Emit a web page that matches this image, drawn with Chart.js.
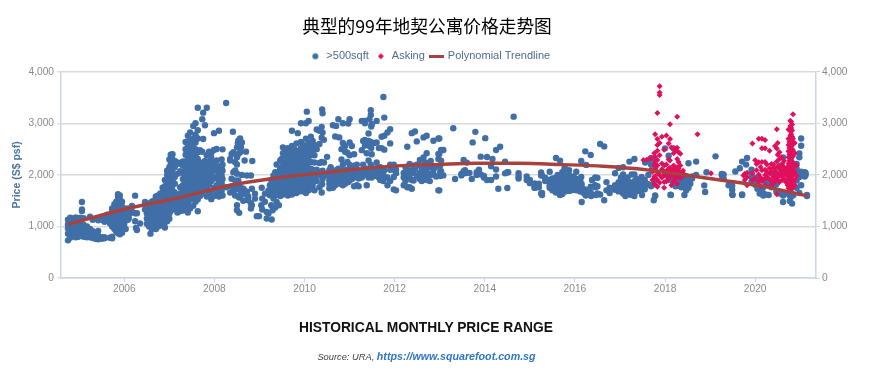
<!DOCTYPE html>
<html><head><meta charset="utf-8">
<script src="https://cdn.jsdelivr.net/npm/chart.js@4"></script>
<style>
html,body{margin:0;padding:0;background:#fff;width:881px;height:388px;overflow:hidden}
#wrap{position:relative;width:881px;height:388px}
canvas{position:absolute;left:0;top:0}
.t{position:absolute;white-space:nowrap;transform:translateX(-50%)}
#title{left:427px;top:12px;font:17.7px/26px "Noto Sans CJK SC",sans-serif;color:#000}
#sub{left:426px;top:319px;font:bold 13.8px/18px "Liberation Sans",Arial,sans-serif;color:#111}
#src{left:426.5px;top:347.5px;font:italic 9.3px/16px "Liberation Sans",Arial,sans-serif;color:#444}
#src b{font-size:10.7px;color:#2f76c4}
</style></head><body>
<div id="wrap">
<canvas id="c" width="881" height="388"></canvas>
<div id="title" class="t">典型的99年地契公寓价格走势图</div>
<div id="sub" class="t">HISTORICAL MONTHLY PRICE RANGE</div>
<div id="src" class="t">Source: URA, <b>https://www.squarefoot.com.sg</b></div>
</div>
<script>
// Each row: first number = years after 2000, the rest = prices read at that date.
const yearTicks = [2006,2008,2010,2012,2014,2016,2018,2020];
const seriesNames = ['>500sqft','Asking','Polynomial Trendline'];
const blue2005 = [
[4.75,730,860,960,1040,1130],[4.8,780,900,1000,1090,1170],[4.86,820,920,1020,1100,1150],
[4.92,790,870,960,1050,1130,1175],[4.98,800,885,975,1065,1160],[5.03,820,925,1010,1100,1170],
[5.06,1300,1330,1475],[5.1,800,860,950,1030,1160],[5.17,790,850,920,1000],[5.24,790,830,880,950,1190],
[5.3,775,805,850,910,1130],[5.36,760,800,845],[5.42,750,780,820,915,1120],[5.5,760,790,1130],
[5.56,770,790,1090,1170],[5.62,1230,1150],[5.68,780,1060,1210],[5.73,770,800,1000,1100,1200,1300,1350],
[5.78,950,1050,1150,1250,1340,1430],[5.82,900,1000,1095,1200,1300,1400,1480],
[5.86,870,960,1060,1165,1260,1360,1460,1570,1625],[5.9,850,930,1030,1130,1230,1330,1435,1530,1600],
[5.95,880,980,1080,1180,1280,1385,1480],[6.0,950,1050,1150,1250,1350]];
const blue2006 = [
[6.03,950,1170],[6.08,1350,1240,1130],[6.1,1160],[6.13,1255],[6.17,1400,1290],[6.24,1597,1100,1255],
[6.26,970],[6.28,930,1255],[6.35,1060],[6.46,1475,1330],[6.5,1410,1050,1150,1250,1350,1450],
[6.55,1000,1100,1200,1300,1400],[6.58,860],[6.61,950,1050,1150,1250,1350,1480],
[6.65,1000,1100,1200,1300,1400,1500],[6.7,950,1050,1150,1250,1350,1450,1580],
[6.75,1000,1100,1200,1300,1400,1500,1600],[6.8,1020,1120,1220,1320,1420,1520,1640],
[6.85,1050,1150,1250,1350,1450,1550,1650,1750],[6.9,980,1080,1180,1280,1380,1480,1580,1680,1780,1900],
[6.95,1100,1200,1300,1400,1500,1600,1700,1800,1900,2000,2080]];
const blue2007 = [
[7.0,1150,1250,1350,1450,1550,1650,1750,1850,1950,2050,2150,2300],
[7.03,1300,1400,1500,1600,1700,1800,1900,2000,2100,2200,2390],
[7.07,1400,1500,1600,1700,1800,1900,2000,2100,2200,2300,2400,2260],
[7.12,1340,1380,1450,1560,1660,1830,1960,2150,2270],[7.18,1270,1300,1360,1470,1590,2020,2240],
[7.24,1300,1350,1450,1530,1640,1760,2070,2210],[7.3,1310,1420,1560,1680,1800,1920,2030,2180,2260],
[7.36,1380,1500,1620,1740,1860,1990,2120,2250,2390,2500,2640],
[7.41,1270,1450,1580,1700,1830,1950,2070,2200,2320,2450,2580,2759],
[7.46,1350,1520,1650,1780,1900,2020,2140,2270,2400,2530,2660,2823],
[7.53,1400,1560,1700,1820,1950,2080,2200,2330,2460,2590,2700,2951],
[7.58,1480,1620,1740,1870,2000,2130,2250,2380,2500,2630,2780,3003],
[7.63,1295,1530,1680,1800,1930,2060,2190,2310,2440,2707,2868,3304],
[7.68,1590,1730,1860,1980,2120,2240,2480],[7.73,1640,1790,1920,2050,2200,2450,3080],
[7.75,2695,3208],[7.79,1700,1840,1990,2130,2270,2964],[7.83,1580,1760,1900,2040,2200,2380,3304],
[7.88,1640,1820,1960,2100,2260,2451],[7.93,1530,1700,1880,2020,2170,2330,2420],
[7.99,1590,1750,1930,2080,2220,2483,2810],[8.05,1640,1800,1960,2120,2280,2502],
[8.1,1580,1700,1880,2030,2170,2855],[8.16,1690,1840,1990,2130,2300],[8.18,2496,1600,1920,2080,2200]];
const blue2008 = [
[8.26,3394,1760],[8.35,2310,2278,1660],[8.38,2406,1925,1780],[8.41,2836,1730],[8.42,2438,2053,1668],
[8.46,2246,2085,1893,1600],[8.5,2534,2342,2201,2021,1796,1411,1315,1720],[8.52,2618,1860],[8.53,2663,2406,1893],
[8.55,1264,1560],[8.57,2707,2438,1764,1572],[8.59,2534,1650],[8.61,2630,2000],[8.64,1732,1500],
[8.67,2278,1700],[8.7,2451,1620],[8.72,1989,1668],[8.75,1508,1580],[8.81,1989,1347,1450],[8.83,1732,1411],
[8.84,2271],[8.9,1636,1540],[8.94,1200],[8.99,1200]];
const blue2009 = [
[9.04,1411],[9.05,1751],[9.06,1540,1328],[9.12,1636,1480],[9.16,1155,1280],[9.2,1251,1700],[9.23,1604,1800],
[9.26,1411,1900],[9.27,1135],[9.29,1315,1700,1620],[9.31,1828,1989,1540],[9.35,1367,1680,1770,1860,1950,2050],
[9.38,1476,2201,1610,1720,1830,1940],[9.43,1411,1640,1750,1860,1970,2060],[9.46,2278,1590,1700,1810,1920,2020,2130],
[9.49,2310,2085,1650,1770,1880,1990],[9.52,2534,2420,1620,1730,1840,1950,2060,2180],
[9.58,1680,1790,1900,2000,2120,2240,2360,2480],[9.63,1600,1720,1830,1940,2050,2160,2280,2400,2520],
[9.68,1660,1770,1880,1990,2100,2210,2330,2460],[9.72,2855,1620,1730,1840,1950,2060,2170,2290,2440,2560],
[9.77,1690,1800,1910,2020,2130,2250,2370,2500],[9.82,1650,1770,1880,2000,2110,2230,2340,2470,2610],
[9.85,2810,1720,1830,1950,2070,2180,2300,2420],[9.92,3003,1680,1790,1900,2020,2140,2260,2390,2520,2640],
[9.97,1720,1840,1960,2080,2200,2320,2450,2580],[10.03,3003,1650,1770,1890,2010,2130,2250,2380,2540,2700],
[10.05,3227,1820,1940,2060,2180,2300,2430],[10.09,3048,1700,1850,1980,2110,2240,2360,2500,2620],
[10.14,1740,1880,2000,2120,2250,2380,2560,2740]];
const blue2010 = [
[10.18,2000,2100,1800,2660,2480],[10.22,1700,1950,2240,2580,2380],[10.27,1880,2100,2500,2880],
[10.33,2855,1760,1990,2230,2600],[10.38,2932,1660,2060,2250,2720],[10.39,3272,1820,2000],
[10.4,3195,2823,2080,1920],[10.43,1980,2240,2680],[10.5,2000,2350],[10.55,1740,1900,2090,1980,1830],
[10.58,1750,2060,2150],[10.63,2964,1900,2000,1820,1750],[10.68,2746,2030,1940,1800],[10.7,2951,1880,1960,2090],
[10.75,3080,2120,1990,1830,1900],[10.77,2727,2040,1950],[10.82,2500,2300,2050,1970,1880],[10.85,3003,2620,2200,2100,2010,1920,1800],
[10.9,2560,2450,2000,2060,1950,1830],[10.95,2430,2250,2100,2010,1900],[10.97,2996,1980,1860],[11.0,3080,2630,2380,2200,2120,2040,1960,1890],
[11.05,2560,2100,2000,1920],[11.1,2400,2180,2050,1950,1780],[11.16,2200,2100,1990,1800],[11.2,2010,1930,1780]];
const blue2011 = [
[11.27,3048,2480,2030,1950],[11.3,2660,2200,2060],[11.34,3048,3003,2680,2570,2130,2000],[11.38,1800,2030,2590,2420],
[11.42,2804,2660,2280,2100,1950],[11.44,3080,2560,2030],[11.47,3253,3163,2640,2200,2100,1990],[11.48,2938,2520],
[11.49,2983,2400,2140,2040,1950],[11.55,2620,2100,2010],[11.6,3048,2630,2240,2130,2040,1980],[11.65,2520,2100,1990,1950],
[11.68,2150,2030,1900],[11.71,2740,2520,2060,1960],[11.75,3510,2000,1880],[11.77,3112,2759,2490,2090,1940],
[11.84,2823,1950,1800],[11.9,2887,2611,2100,2200,1880],[11.98,2200,1960,1720,2100],[12.03,1700,2100,2030]];
const blue2012 = [
[12.2,1800,1950,2040],[12.24,1880,2050,2150],[12.28,2547,1760,1930,2060],[12.33,1760,1960,2090,2210],[12.38,2810,1730,1900,2040],
[12.42,1890,2050,2180],[12.45,2842,2120],[12.49,2650,1980,2200],[12.56,1920,2040,2180,2290],[12.6,1880,2000,2120],
[12.64,2727,1970,2100,2340],[12.68,1950,2130,2240],[12.71,2759,1900,2050,2420],[12.78,1880,2020,2150],[12.8,2270,2000,2190],
[12.86,2663,2100,2020],[12.92,2160,1970],[12.97,2707,2405,1700,2310],[12.99,2707,2405,1700],[13.01,2181,1980,2060]];
const blue2013 = [
[13.03,2482,2277,2070],[13.08,2482,1990],[13.3,2906],[13.34,1920],[13.48,2020,1990],[13.53,2290,2070],[13.56,2090,2030],
[13.6,2239,2040],[13.66,2040],[13.71,1920],[13.73,2630],[13.79,2835],[13.82,2050,2000],[13.87,2100],[13.91,2354,2010],
[13.98,1950,1980],[14.01,2713],[14.05,2348,1900],[14.14,2168,1900],[14.17,2309],[14.25,2482,2104,1970],[14.3,1732],
[14.34,2547],[14.45,2258,2030],[14.5,1745,2050],[14.52,2050]];
const blue2014 = [
[14.64,3130],[14.75,2035,1970,1930],[14.93,1970,1900],[15.0,1900,1840],[15.1,1750,1830],[15.12,1750,1830],[15.2,1760,1830],
[15.25,2047,1990,1640],[15.27,1648,1990],[15.34,1945,1880],[15.44,2060,1800,1900,1750],[15.5,1840,1930,1700],[15.53,1720,1780,1860],
[15.58,2328,1660,1760,1950,1850],[15.62,1700,1820,1900,2000],[15.67,2277,1640,1750,1860,1960],[15.72,1700,1800,1900,2050,1630],
[15.77,2130,1740,1860,1980,2000]];
const blue2016 = [
[15.78,2117,1800,1680],[15.83,1960,1850,1740],[15.87,2000,1900,1800,1690,2090],[15.93,1930,1700,1820],[15.97,1970,1860,1750],
[16.03,1920,1790,1700,2060],[16.07,1850,1720],[16.12,1880,1760,1680],[16.14,2271,1700,1960],[16.15,1475,1820,1750],[16.18,1700,1660],
[16.23,2457,1623,1720],[16.25,2194,1690],[16.35,2386,1660,1770],[16.38,1610,1900],[16.45,1760,1800,1950],[16.5,1943,1640,1780],
[16.56,2598,1620],[16.65,2553,1507],[16.7,1860,1700],[16.77,1750,1650],[16.89,2033,1800,1710],[16.97,2136,1860,1780,1680],
[17.02,1830,1750,1950]];
const blue2017 = [
[17.07,2149,2008,1850,1780,1640],[17.12,1900,1800,1720],[17.17,1830,1770,1650,1950],[17.21,2258,1860,1700,1620],[17.26,2008,1780,1680],
[17.32,2309,2008,1880,1790,1640],[17.37,1830,1730,1920],[17.42,1860,1760,1690],[17.48,1830,1760,1720,1960],[17.52,1810,1760],
[17.55,1780,1720,1900],[17.56,2240,1840],[17.63,2270,2000,1820],[17.69,2330,2200,1780],[17.75,1507,2210,1820],[17.78,1603,1900,2160]];
const blue2018 = [
[18.0,2515,2050],[18.08,2373,1980,1900],[18.12,1616,1900],[18.19,2515,1920,1840],[18.23,1930,1780,1850],[18.28,1830,1900,2000],
[18.3,1960,1790,1850],[18.36,1880,1760,1940],[18.4,1800,1890,1950],[18.47,1700,1810,1980],[18.52,2226,1920,1750,1860],
[18.56,1950,1830],[18.6,1930,1970],[18.69,2258,2000],[18.87,1796],[18.89,1668],[18.92,2052]];
const blue2019 = [
[19.12,2360],[19.26,2020,1990],[19.3,1925,2010],[19.41,1800],[19.49,1790,1710,1623],[19.56,2065],[19.66,2130],[19.71,2258,1623],
[19.8,2200],[19.82,2328],[19.92,2100,2020,1950,1870],[20.0,1940,1810],[20.05,1730,1850],[20.1,1700,1640,1920],[20.17,1650,1890,1750],
[20.23,1620,1880],[20.3,1900,1800],[20.36,1860,1760],[20.41,2000,1780],[20.47,1680,1820],[20.55,1640,2180,2020],[20.62,1475,1600,2340],
[20.68,1640,2040],[20.77,1494,1600],[20.8,1580,1640],[20.82,1443],[20.92,2210,2120,2020,1890,1750],[20.98,2418,2341,1960,1650],
[21.02,2707,2566,2060,1800],[21.1,2052,1970],[21.12,2040,2000],[21.15,1590]];
const blueLow = [
[15.27,1610],[15.67,1610],[16.24,1600],[16.36,1590],[16.47,1610],[17.12,1590],[17.27,1610],[17.32,1590],[17.49,1610],[17.78,1590],
[18.13,1610],[18.43,1610],[19.5,1610],[19.71,1610],[20.18,1600],[20.3,1610],[20.85,1610],[21.15,1610]];

const ask2017 = [
[17.52,2290],[17.6,2300],[17.68,2320,2100],[17.72,1900,2060],[17.76,1820,1960,2190,2420],[17.78,2790,1980,2110,2270,2350],
[17.83,3201,2695,2580,2470,2290,2180,2050,1900,1770],[17.88,3720,3600,3550,2620,2380,2000,1850],[17.93,2742,2220,2110,1950],
[17.98,2490,2180,1990,2040,1750,1860],[18.03,2765,2200,1980,2070,1870],[18.08,2610,2300,2120,2010,1930],
[18.11,2983,2696,2280,2040,2140],[18.14,2530,2100,2000,1800],[18.19,2510,2420,2180,1990,2060,1880,2110],[18.23,2470,2130,2030,1930,2070],
[18.27,3130,2525,2310,2080,1980,1830,2150],[18.3,2440,2250,2060,2000,2120],[18.34,2410,2180,2030,1940],[18.4,2020,2080,1990],[18.44,2000],
[18.72,2790],[19.02,2033]];
const ask2020 = [
[19.74,1990],[19.77,2020,1900],[19.82,2040,1960,1800],[19.94,2611,2030,1900],[20.0,2285,1930],[20.03,2210,2090],[20.08,2700,2245,2010,1870],
[20.12,2155,1950,1780],[20.15,2700,2515,2250,2090,1880],[20.22,2675,2515,2250,2000,1930,1800,2100],[20.26,2200,2060,1960],
[20.32,2470,1910,2020,2130],[20.36,2060,2210,1900,1800],[20.41,2200,2140,1970,1850],[20.44,2560,2000,2100,1920],[20.48,2887,2510,2260,1623,2040,1900],
[20.5,2617,2390,2160,1950],[20.54,2440,2310,2120,2010,1860],[20.58,2340,2090,2190,1980],[20.6,2210,1990,1900],[20.64,2270,1930,2060,2150],
[20.68,2010,1860,2120],[20.72,2160,2040,1920,1800],[20.74,2880,2700,2580,2460,2340,2220,2100,1980,1860,1740],
[20.76,2640,2520,2400,2280,2160,2040,1920,1800,1700],
[20.78,3050,2950,2850,2760,2690,2580,2460,2340,2220,2100,1980,1860,1680],
[20.8,3030,2910,2790,2670,2550,2430,2310,2190,2070,1950,1830,1710],[20.82,2980,2860,2740,2620,2500,2380,2260,2140,2020,1900,1780],
[20.84,3175,2700,2600,2480,2360,2240,2120,2000,1880,1760],
[20.88,2620,2420,2200,2050,1900,1800],[20.92,2180,1980]];
const trendX = [4.75,6,7.35,8.3,9.3,10.25,11.08,12.05,13,13.8,14.74,15.72,16.63,17.6,18.56,19.3,20.18,21.16];
const trendY = [1040,1334,1584,1790,1931,2027,2104,2175,2205,2225,2225,2200,2167,2098,1983,1892,1777,1590];

const flat = rows => rows.flatMap(r => r.slice(1).map(p => ({x:2000+r[0], y:p})));
const bluePoints = [blue2005,blue2006,blue2007,blue2008,blue2009,blue2010,blue2011,blue2012,blue2013,blue2014,blue2016,blue2017,blue2018,blue2019,blueLow].flatMap(flat);
const askPoints = [ask2017,ask2020].flatMap(flat);
const trendPoints = trendX.map((x,i)=>({x:2000+x,y:trendY[i]}));

const BLUE='#406fa8', RED='#e0105c', TREND='#a8423f', AXIS='#c8d6e6', TXT='#8a8a8a';
function marker(w,h,draw){const c=document.createElement('canvas');c.width=w;c.height=h;draw(c.getContext('2d'));return c;}
const legendMarks=[
 marker(8,8,g=>{g.fillStyle=BLUE;g.beginPath();g.arc(4,4,3,0,7);g.fill();}),
 marker(8,8,g=>{g.fillStyle=RED;g.beginPath();g.moveTo(4,1);g.lineTo(7,4);g.lineTo(4,7);g.lineTo(1,4);g.fill();}),
 marker(15,3,g=>{g.fillStyle=TREND;g.fillRect(0,0,15,3);})];
const FONT='"Liberation Sans",Arial,sans-serif';
const yTick={stepSize:200,autoSkip:false,color:TXT,font:{family:FONT,size:10.2},
  callback:v=>v%1000===0?v.toLocaleString('en-US'):null};
new Chart(document.getElementById('c'),{
 type:'scatter',
 data:{datasets:[
  {label:seriesNames[0],data:bluePoints,order:3,pointStyle:'circle',pointRadius:3.2,pointBackgroundColor:BLUE,pointBorderWidth:0,backgroundColor:BLUE},
  {label:seriesNames[1],data:askPoints,order:2,pointStyle:'rectRot',pointRadius:3,pointBackgroundColor:RED,pointBorderWidth:0,backgroundColor:RED},
  {label:seriesNames[2],data:trendPoints,order:1,type:'line',showLine:true,cubicInterpolationMode:'monotone',pointRadius:0,borderColor:TREND,borderWidth:3.4,backgroundColor:TREND}
 ]},
 options:{responsive:false,animation:false,
  layout:{padding:{top:44.3,right:21,bottom:80,left:0}},
  plugins:{title:{display:false},tooltip:{enabled:false},
   legend:{position:'top',labels:{usePointStyle:true,boxWidth:17,boxHeight:8,padding:6.5,color:'#4f6d8f',font:{family:FONT,size:11},
     generateLabels:ch=>ch.data.datasets.map((d,i)=>({text:d.label,pointStyle:legendMarks[i],fillStyle:d.backgroundColor,strokeStyle:d.backgroundColor,lineWidth:0,datasetIndex:i,fontColor:'#4f6d8f'}))}}},
  scales:{
   x:{type:'linear',min:2004.595,max:2021.35,
     afterBuildTicks:s=>{s.ticks=yearTicks.map(v=>({value:v}));},
     afterFit:s=>{s.height=30;},
     ticks:{color:TXT,font:{family:FONT,size:10.2},padding:1,maxRotation:0,autoSkip:false,callback:v=>String(v)},
     grid:{drawOnChartArea:false,color:AXIS,tickLength:4,tickColor:AXIS},border:{color:AXIS,width:1.5}},
   y:{position:'left',min:0,max:4000,afterFit:s=>{s.width=61;},ticks:{...yTick,padding:3},
     title:{display:true,text:'Price (S$ psf)',color:'#4d759e',font:{family:FONT,size:10.5,weight:'bold'},padding:{top:11,bottom:0}},
     grid:{color:c=>c.tick.value%1000===0?'#d9d9d9':'transparent',lineWidth:c=>c.tick.value%1000===0?1.6:0,tickColor:AXIS,tickLength:4,tickWidth:1},
     border:{color:AXIS,width:1.5}},
   y2:{position:'right',min:0,max:4000,afterFit:s=>{s.width=44;},ticks:{...yTick,padding:2},
     grid:{drawOnChartArea:false,tickColor:AXIS,tickLength:4,tickWidth:1},border:{color:AXIS,width:1.5}}
  }
 }
});
</script>
</body></html>
